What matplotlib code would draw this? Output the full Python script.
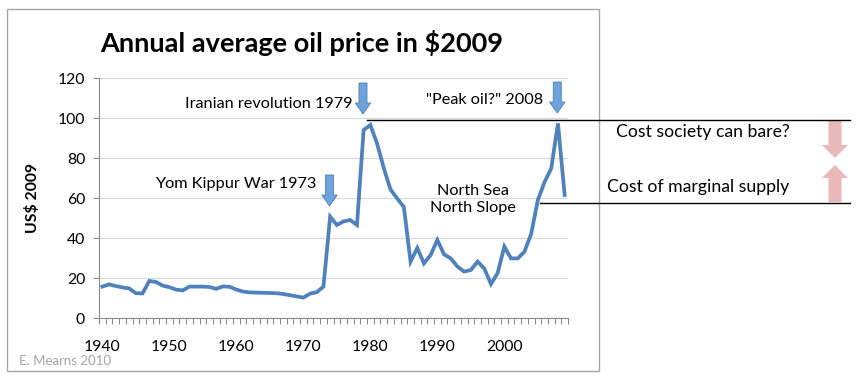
import numpy as np
import matplotlib
matplotlib.use("Agg")
import matplotlib.pyplot as plt
from matplotlib import transforms
from matplotlib.patches import FancyArrow, Rectangle
from matplotlib.lines import Line2D

plt.rcParams['font.family'] = ['Lato', 'DejaVu Sans']

# annual average oil price, US$ 2009
years = list(range(1940, 2010))
price = [15.7, 16.8, 16.0, 15.3, 14.8, 12.4, 12.3, 18.5, 18.0, 16.2,
         15.4, 14.2, 13.8, 15.7, 15.7, 15.7, 15.5, 14.6, 15.8, 15.6,
         14.2, 13.2, 12.8, 12.7, 12.6, 12.5, 12.4, 12.0, 11.4, 10.8,
         10.2, 12.2, 12.9, 15.7, 50.7, 46.5, 48.3, 49.0, 46.5, 94.0,
         96.5, 87.3, 75.0, 64.3, 59.8, 55.5, 28.2, 35.0, 27.3, 31.5,
         39.0, 31.8, 29.8, 25.7, 23.2, 24.0, 28.2, 24.8, 17.0, 22.5,
         35.7, 29.8, 29.8, 33.2, 42.0, 59.0, 68.0, 74.8, 97.3, 61.5]

y_ticks = [0, 20, 40, 60, 80, 100, 120]
x_labels = [1940, 1950, 1960, 1970, 1980, 1990, 2000]

# events: (label, year of arrow)
events = [("Yom Kippur War 1973", 1974),
          ("Iranian revolution 1979", 1979),
          ('"Peak oil?" 2008', 2008)]

cost_society = 99      # upper level line
marginal_cost = 57.5   # lower level line

fig = plt.figure(figsize=(8.66, 3.78), dpi=100)
ax = fig.add_axes([99/866, 1 - 318/378, 469/866, 240/378])

ax.plot(years, price, color='#4f81bd', lw=2.7, solid_joinstyle='miter', zorder=3)

ax.set_xlim(1939.5, 2009.5)
ax.set_ylim(0, 120)
ax.set_yticks(y_ticks)
ax.set_xticks(x_labels)
ax.set_xticks(np.arange(1939.5, 2010.5, 1), minor=True)
ax.tick_params(axis='x', which='major', length=0, pad=16, labelsize=11.3)
ax.tick_params(axis='x', which='minor', length=4, color='#8c8c8c', width=0.8)
ax.tick_params(axis='y', length=4, color='#8c8c8c', width=0.8, pad=6, labelsize=11.3)
ax.grid(axis='y', color='#d9d9d9', lw=0.9)
ax.set_axisbelow(True)
for s in ['top', 'right']:
    ax.spines[s].set_visible(False)
for s in ['left', 'bottom']:
    ax.spines[s].set_color('#8c8c8c')
    ax.spines[s].set_linewidth(0.8)

ax.set_ylabel("US$ 2009", fontsize=11.3, fontweight='bold')
ax.yaxis.set_label_coords(-0.126, 0.5)

fig.text(302/866, 1 - 43/378, "Annual average oil price in $2009",
         fontsize=19.5, fontweight='bold', ha='center', va='center')

# event arrows and labels
arrow_top = {1974: 71.5, 1979: 117.5, 2008: 118}
arrow_len = 15.5
label_pos = {1974: (1971.9, 67), 1979: (1977.3, 107), 2008: (2005.8, 109)}
for label, yr in events:
    top = arrow_top[yr]
    ax.add_patch(FancyArrow(yr - 0.1, top, 0, -arrow_len, width=1.2, head_width=2.3,
                            head_length=5.5, length_includes_head=True,
                            fc='#6fa3dc', ec='#4a7fbe', lw=0.6, clip_on=False, zorder=4))
    lx, ly = label_pos[yr]
    ax.text(lx, ly, label, fontsize=11.7, ha='right', va='center')

ax.text(1995.3, 59.3, "North Sea\nNorth Slope", fontsize=11.7, ha='center',
        va='center', linespacing=1.3)

# right-hand level lines and notes
bt = transforms.blended_transform_factory(fig.transFigure, ax.transData)
fig.add_artist(Line2D([367/866, 850/866], [cost_society, cost_society],
                      transform=bt, color='black', lw=1))
fig.add_artist(Line2D([540/866, 850/866], [marginal_cost, marginal_cost],
                      transform=bt, color='black', lw=1))
fig.text(703/866, 93.2, "Cost society can bare?", transform=bt, fontsize=12.7,
         ha='center', va='center')
fig.text(698/866, 65.6, "Cost of marginal supply", transform=bt, fontsize=12.7,
         ha='center', va='center')

pink = '#e9b8b8'
fig.add_artist(FancyArrow(835/866, cost_society - 0.5, 0, -18.5, width=13/866,
                          head_width=26/866, head_length=6.5, length_includes_head=True,
                          transform=bt, fc=pink, ec='none'))
fig.add_artist(FancyArrow(835/866, marginal_cost + 0.5, 0, 18.5, width=13/866,
                          head_width=26/866, head_length=6.5, length_includes_head=True,
                          transform=bt, fc=pink, ec='none'))

# chart frame and credit
fig.add_artist(Rectangle((7/866, 1 - 371/378), 592/866, 362/378, transform=fig.transFigure,
                         fill=False, ec='#a6a6a6', lw=1))
fig.text(19/866, 1 - 361/378, "E. Mearns 2010", fontsize=9.5, color='#a6a6a6', va='center')

fig.savefig("out.png", dpi=100)
